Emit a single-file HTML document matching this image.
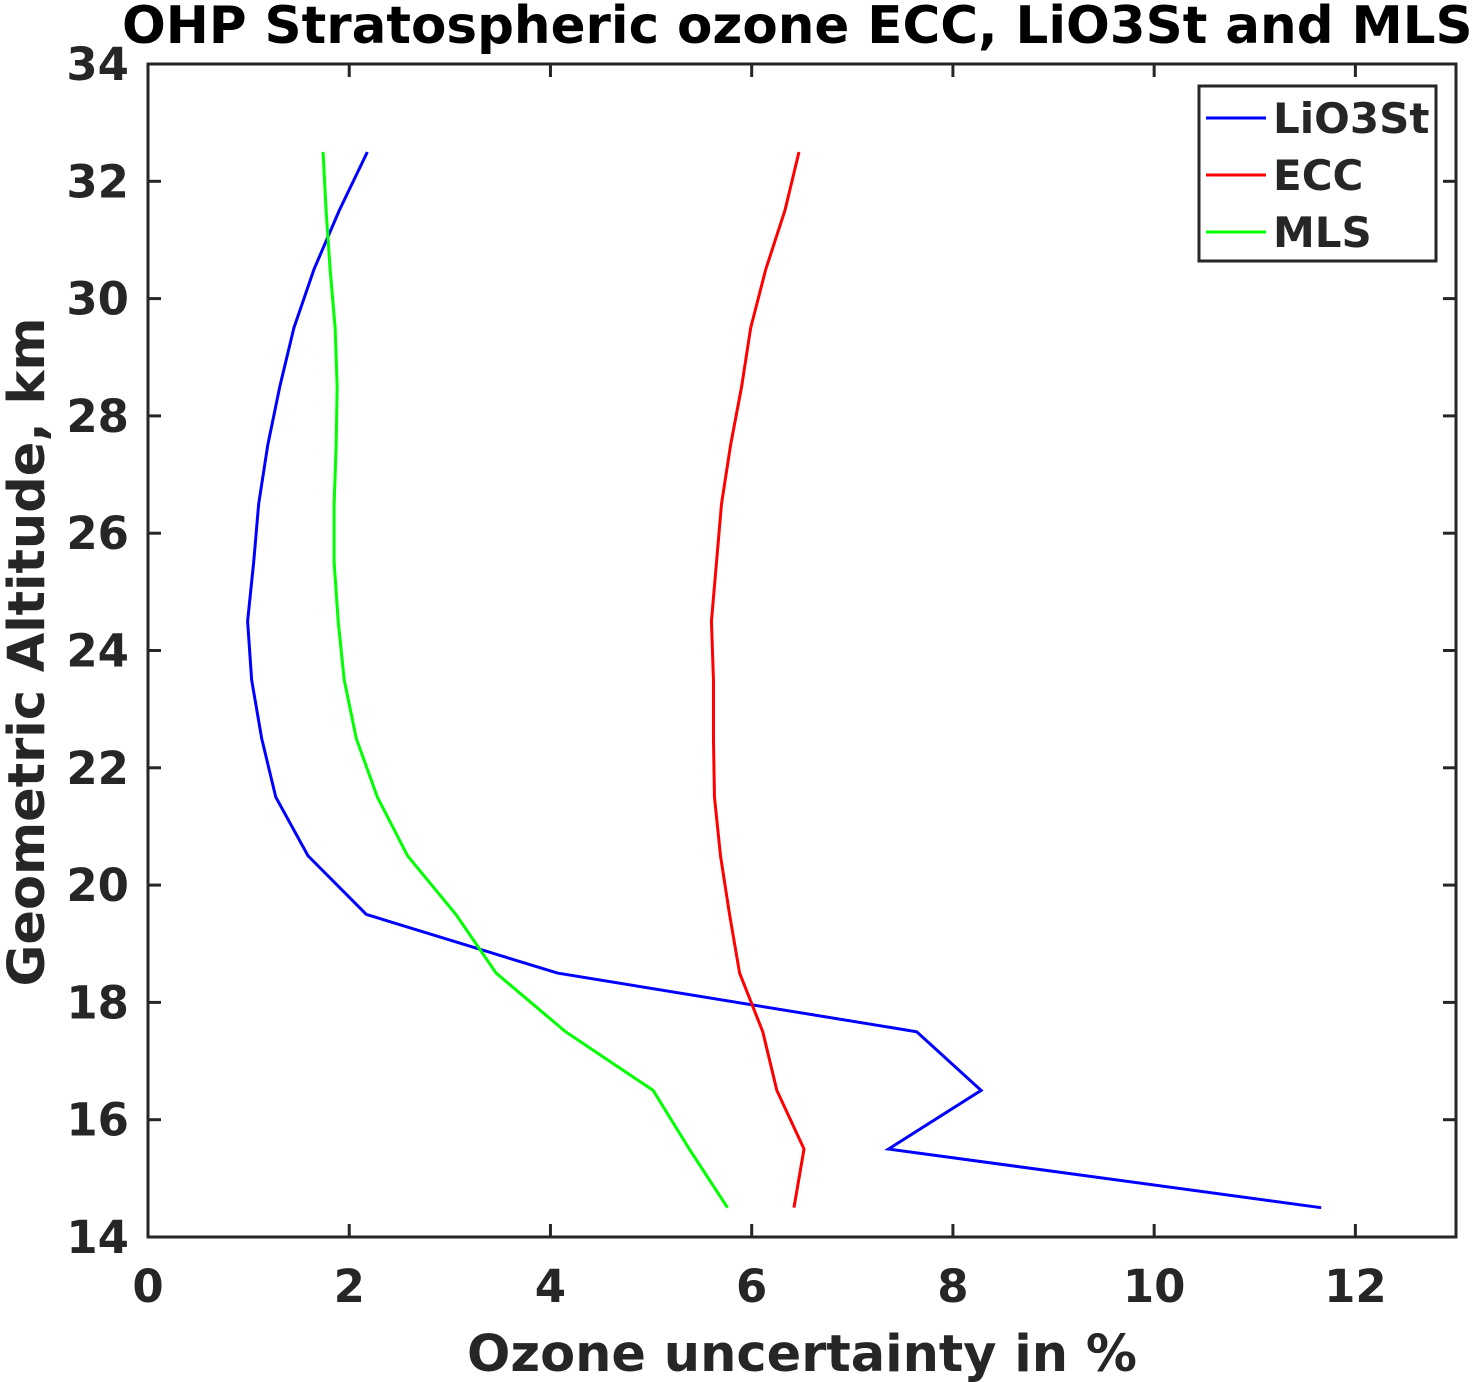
<!DOCTYPE html>
<html><head><meta charset="utf-8"><style>
body{margin:0;background:#fff;}
svg{display:block;font-family:"DejaVu Sans","Liberation Sans",sans-serif;font-weight:bold;}
</style></head><body>
<svg id="chart" width="1481" height="1382" viewBox="0 0 1481 1382"></svg>
<script>
const altitudes=[14.5,15.5,16.5,17.5,18.5,19.5,20.5,21.5,22.5,23.5,24.5,25.5,26.5,27.5,28.5,29.5,30.5,31.5,32.5];
const lio3st=[11.66,7.36,8.28,7.64,4.07,2.17,1.59,1.27,1.13,1.03,0.99,1.05,1.10,1.19,1.31,1.45,1.65,1.9,2.18];
const ecc=[6.42,6.52,6.25,6.11,5.88,5.78,5.69,5.63,5.62,5.62,5.6,5.65,5.7,5.79,5.9,5.99,6.14,6.33,6.47];
const mls=[5.76,5.38,5.02,4.15,3.46,3.06,2.58,2.28,2.07,1.95,1.89,1.85,1.85,1.87,1.88,1.86,1.81,1.77,1.74];
const xTicks=[0,2,4,6,8,10,12];
const yTicks=[14,16,18,20,22,24,26,28,30,32,34];
const seriesNames=["LiO3St","ECC","MLS"];
const seriesColors=["#0000ff","#ff0000","#00ff00"];

const L=148,R=1456,T=64,B=1237;
const xs=v=>L+(v/13)*(R-L);
const ys=v=>B-(v-14)/20*(B-T);
const svg=document.getElementById('chart');
const NS='http://www.w3.org/2000/svg';
function mk(tag,attrs,parent){const e=document.createElementNS(NS,tag);for(const k in attrs)e.setAttribute(k,attrs[k]);(parent||svg).appendChild(e);return e;}

const frame=mk('rect',{x:L,y:T,width:R-L,height:B-T,fill:'none',stroke:'#262626','stroke-width':3});



xTicks.forEach(t=>{
  const x=xs(t);
  const g=mk('g',{});
  
  
  mk('line',{x1:x,y1:B,x2:x,y2:B-13,stroke:'#262626','stroke-width':3},g);
  mk('line',{x1:x,y1:T,x2:x,y2:T+13,stroke:'#262626','stroke-width':3},g);
  const tx=mk('text',{x:x,y:1302,'text-anchor':'middle','font-size':45,fill:'#262626'},g);tx.textContent=t;
});
yTicks.forEach(t=>{
  const y=ys(t);
  const g=mk('g',{});
  
  
  mk('line',{x1:L,y1:y,x2:L+13,y2:y,stroke:'#262626','stroke-width':3},g);
  mk('line',{x1:R,y1:y,x2:R-13,y2:y,stroke:'#262626','stroke-width':3},g);
  const tx=mk('text',{x:129,y:y+16,'text-anchor':'end','font-size':45,fill:'#262626'},g);tx.textContent=t;
});

[lio3st,ecc,mls].forEach((vals,i)=>{
  const p=mk('polyline',{points:vals.map((v,j)=>xs(v)+','+ys(altitudes[j])).join(' '),fill:'none',stroke:seriesColors[i],'stroke-width':3});
  
  
});

const title=mk('text',{x:122,y:43,'text-anchor':'start','font-size':51.5,fill:'#000'});
title.textContent='OHP Stratospheric ozone ECC, LiO3St and MLS';



const xl=mk('text',{x:802,y:1371,'text-anchor':'middle','font-size':51,fill:'#262626'});
xl.textContent='Ozone uncertainty in %';



const yl=mk('text',{x:0,y:0,'text-anchor':'middle','font-size':51,fill:'#262626',transform:'translate(44,652) rotate(-90)'});
yl.textContent='Geometric Altitude, km';



const lg=mk('g',{});


mk('rect',{x:1199,y:86,width:237,height:175,fill:'#fff',stroke:'#262626','stroke-width':3},lg);
seriesNames.forEach((n,i)=>{
  const y=118+i*57;
  const e=mk('g',{},lg);
  
  
  mk('line',{x1:1206,y1:y,x2:1266,y2:y,stroke:seriesColors[i],'stroke-width':3},e);
  const t=mk('text',{x:1273,y:y+15,'font-size':42,fill:'#262626'},e);t.textContent=n;
});
</script>
</body></html>
